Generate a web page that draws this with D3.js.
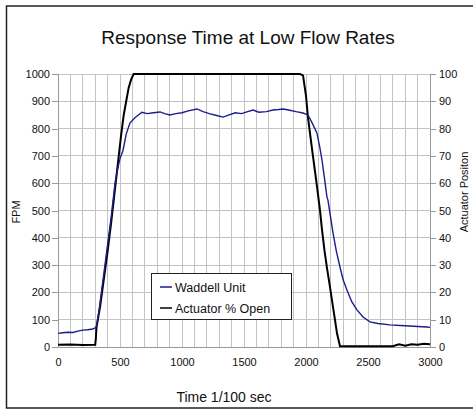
<!DOCTYPE html>
<html><head><meta charset="utf-8">
<script src="https://cdn.jsdelivr.net/npm/d3@7"></script>
<style>body{margin:0;background:#fff}svg{display:block}</style>
</head><body>
<script>
const titleText = "Response Time at Low Flow Rates";
const xLabel = "Time 1/100 sec";
const yLeftLabel = "FPM";
const yRightLabel = "Actuator Positon";
const xTicks = [0,500,1000,1500,2000,2500,3000];
const yLeftTicks = [0,100,200,300,400,500,600,700,800,900,1000];
const yRightTicks = [0,10,20,30,40,50,60,70,80,90,100];
const seriesNames = ["Waddell Unit","Actuator % Open"];

// Waddell Unit (FPM)
const waddellT = [0,40,80,120,160,200,240,280,300,310,330,350,370,390,410,430,445,460,480,500,524,550,580,620,677,720,770,823,860,903,950,1000,1050,1120,1170,1220,1280,1331,1380,1430,1480,1530,1573,1620,1680,1734,1780,1815,1860,1920,1976,2016,2050,2088,2110,2129,2150,2169,2177,2200,2218,2245,2274,2300,2330,2370,2411,2460,2516,2580,2677,2760,2839,2900,2976,3000];
const waddellV = [50,52,54,53,58,62,63,66,70,75,130,200,270,340,410,480,540,600,650,690,720,780,820,840,860,855,858,861,855,850,855,858,865,872,862,855,848,842,850,858,855,862,868,860,862,868,870,872,868,862,857,850,820,784,735,685,615,549,538,470,417,350,293,245,209,165,136,110,92,86,81,79,77,75,73,72];

// Actuator % Open
const actT = [0,100,200,300,305,310,340,370,400,430,460,490,510,530,550,570,590,610,1950,1976,2000,2016,2050,2088,2113,2129,2150,2169,2190,2210,2230,2250,2274,2700,2750,2800,2850,2900,2950,3000];
const actV = [0.8,0.9,0.7,0.8,3,7,15,25,35,46,58,70,78,85,90,95,98,100,100,99.5,92,84,72,59,50,43,35,29,23,17,11,5,0.3,0.3,1,0.5,1,0.8,1.2,1];

const W=473,H=411;
const svg=d3.select("body").append("svg").attr("width",W).attr("height",H);
const font="'Liberation Sans Narrow','Liberation Sans',Arial,sans-serif";
const font2="'Liberation Sans',Arial,sans-serif";

// outer frame
svg.append("rect").attr("x",6.5).attr("y",6).attr("width",480).attr("height",402)
  .attr("fill","#fff").attr("stroke","#222").attr("stroke-width",1.5);

const x=d3.scaleLinear().domain([0,3000]).range([58,430]);
const yL=d3.scaleLinear().domain([0,1000]).range([347,74]);
const yR=d3.scaleLinear().domain([0,100]).range([347,74]);

// grid
const g=svg.append("g");
g.selectAll("line.v").data(d3.range(0,3001,100)).join("line")
  .attr("x1",d=>x(d)).attr("x2",d=>x(d)).attr("y1",yL(1000)).attr("y2",yL(0))
  .attr("stroke","#c4c4c4").attr("stroke-width",1).attr("shape-rendering","crispEdges");
g.selectAll("line.h").data(yLeftTicks).join("line")
  .attr("x1",x(0)).attr("x2",x(3000)).attr("y1",d=>yL(d)).attr("y2",d=>yL(d))
  .attr("stroke","#c4c4c4").attr("stroke-width",1).attr("shape-rendering","crispEdges");

// axes
const fmt=d3.format("d");
const axL=d3.axisLeft(yL).tickValues(yLeftTicks).tickFormat(fmt).tickSize(6).tickPadding(2);
const axR=d3.axisRight(yR).tickValues(yRightTicks).tickFormat(fmt).tickSize(6).tickPadding(3);
const axB=d3.axisBottom(x).tickValues(xTicks).tickFormat(fmt).tickSize(0).tickPadding(11);
function styleAx(sel){
  sel.selectAll("path").attr("stroke","#999").attr("shape-rendering","crispEdges");
  sel.selectAll("line").attr("stroke","#999").attr("shape-rendering","crispEdges");
  sel.selectAll("text").attr("fill","#111").style("font-family",font).style("font-size","11px");
}
svg.append("g").attr("transform","translate(58,0)").call(axL).call(styleAx).select(".domain").attr("d","M0,74V347");
svg.append("g").attr("transform","translate(430,0)").call(axR).call(styleAx).select(".domain").attr("d","M0,74V347");
svg.append("g").attr("transform","translate(0,347)").call(axB).call(styleAx).select(".domain").attr("stroke","#999");

// lines
const lineW=d3.line().x((d,i)=>x(waddellT[i])).y(d=>yL(d));
const lineA=d3.line().x((d,i)=>x(actT[i])).y(d=>yR(d));
svg.append("path").attr("d",lineA(actV)).attr("fill","none").attr("stroke","#000").attr("stroke-width",2);
svg.append("path").attr("d",lineW(waddellV)).attr("fill","none").attr("stroke","#1c1c8c").attr("stroke-width",1.4);

// title & labels
svg.append("text").attr("x",248).attr("y",44).attr("text-anchor","middle")
  .style("font-family",font2).style("font-size","19px").attr("fill","#111").text(titleText);
svg.append("text").attr("x",224).attr("y",402).attr("text-anchor","middle")
  .style("font-family",font2).style("font-size","14px").attr("fill","#111").text(xLabel);
svg.append("text").attr("transform","translate(20,212) rotate(-90)").attr("text-anchor","middle")
  .style("font-family",font).style("font-size","11px").attr("fill","#111").text(yLeftLabel);
svg.append("text").attr("transform","translate(468,192) rotate(-90)").attr("text-anchor","middle")
  .style("font-family",font).style("font-size","11px").attr("fill","#111").text(yRightLabel);

// legend
const lg=svg.append("g");
lg.append("rect").attr("x",151.5).attr("y",273.5).attr("width",140).attr("height",46)
  .attr("fill","#fff").attr("stroke","#222").attr("stroke-width",1);
const colors=["#1c1c8c","#000"];
seriesNames.forEach((n,i)=>{
  const yy=287+i*21;
  lg.append("line").attr("x1",160).attr("x2",172).attr("y1",yy).attr("y2",yy).attr("stroke",colors[i]).attr("stroke-width",1.5);
  lg.append("text").attr("x",175).attr("y",yy+4.5).style("font-family",font2).style("font-size","12.5px").attr("fill","#111").text(n);
});
</script>
</body></html>
